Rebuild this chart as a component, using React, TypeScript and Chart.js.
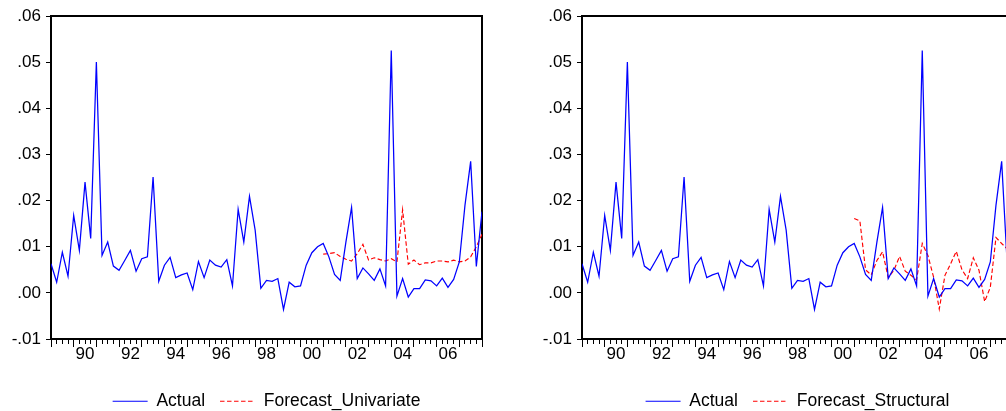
import React, { useEffect, useRef } from "react";
import { Chart, registerables } from "chart.js";

Chart.register(...registerables);
Chart.defaults.font.family = "'Liberation Sans', Arial, sans-serif";
Chart.defaults.color = "#000";

// Quarterly observations 1989Q1 .. 2008Q1
const startYear = 1989;
const endYear = 2008;

const actual = [
  0.0063, 0.0023, 0.0088, 0.0036, 0.0168, 0.0092, 0.024, 0.0118,
  0.05, 0.0081, 0.011, 0.0058, 0.0049, 0.007, 0.0092, 0.0047,
  0.0074, 0.0078, 0.0251, 0.0025, 0.006, 0.0077, 0.0033, 0.0039,
  0.0043, 0.0007, 0.0068, 0.0033, 0.0071, 0.006, 0.0056, 0.0072,
  0.0015, 0.0181, 0.011, 0.0209, 0.0136, 0.001, 0.0027, 0.0025,
  0.0031, -0.0036, 0.0023, 0.0013, 0.0015, 0.006, 0.0087, 0.01,
  0.0107, 0.0078, 0.004, 0.0027, 0.011, 0.0185, 0.0031, 0.0054,
  0.0041, 0.0027, 0.0052, 0.0015, 0.0525, -0.0007, 0.0031, -0.0009,
  0.0009, 0.0009, 0.0028, 0.0026, 0.0015, 0.0032, 0.0012, 0.0029,
  0.0067, 0.019, 0.0285, 0.0057, 0.0176,
];

// Forecasts start at 2001Q1 (observation index 48)
const forecastStartIndex = 48;

const forecastUnivariate = [
  0.0084, 0.0085, 0.0087, 0.0079, 0.0073, 0.0069, 0.0085, 0.0105,
  0.0071, 0.0076, 0.0072, 0.0069, 0.0074, 0.0067, 0.018, 0.0062,
  0.0071, 0.0061, 0.0065, 0.0065, 0.0069, 0.0069, 0.0067, 0.0071,
  0.0067, 0.0069, 0.0078, 0.01, 0.0127,
];

const forecastStructural = [
  0.0161, 0.0156, 0.005, 0.0039, 0.007, 0.0089, 0.0033, 0.0049,
  0.0079, 0.0047, 0.0038, 0.0028, 0.0107, 0.0081, 0.0034, -0.0035,
  0.0038, 0.0063, 0.009, 0.005, 0.0031, 0.0076, 0.0049, -0.0019,
  0.0012, 0.012, 0.0107, 0.0095, 0.009,
];

const xLabelYears = [1990, 1992, 1994, 1996, 1998, 2000, 2002, 2004, 2006];
const xTickLabels = ["90", "92", "94", "96", "98", "00", "02", "04", "06"];

const yTickValues = [-0.01, 0, 0.01, 0.02, 0.03, 0.04, 0.05, 0.06];
const yTickLabels = ["-.01", ".00", ".01", ".02", ".03", ".04", ".05", ".06"];

const quarterPos = (i: number) => startYear + i / 4;

const quarterTicks: number[] = [];
for (let i = 0; i <= (endYear - startYear) * 4; i++) quarterTicks.push(quarterPos(i));

const xLabel = (v: number) => {
  for (let k = 0; k < xLabelYears.length; k++) {
    if (Math.abs(v - (xLabelYears[k] + 0.5)) < 1e-6) return xTickLabels[k];
  }
  return "";
};

const yLabel = (v: number) => {
  for (let k = 0; k < yTickValues.length; k++) {
    if (Math.abs(v - yTickValues[k]) < 1e-9) return yTickLabels[k];
  }
  return "";
};

const majorTicksPlugin = {
  id: "majorTicks",
  afterDraw(chart: any) {
    const s = chart.scales.x;
    const ctx = chart.ctx;
    const b = chart.chartArea.bottom;
    ctx.save();
    ctx.strokeStyle = "#000";
    ctx.lineWidth = 1;
    for (let yr = startYear; yr <= endYear; yr++) {
      const px = Math.round(s.getPixelForValue(yr) - 0.5) + 0.5;
      ctx.beginPath();
      ctx.moveTo(px, b);
      ctx.lineTo(px, b + 8);
      ctx.stroke();
    }
    ctx.restore();
  },
};

function makeConfig(forecastLabel: string, forecast: number[]): any {
  const actualPts = actual.map((v, i) => ({ x: quarterPos(i), y: v }));
  const fcPts = forecast.map((v, j) => ({ x: quarterPos(forecastStartIndex + j), y: v }));
  return {
    type: "line",
    data: {
      datasets: [
        {
          label: "Actual",
          data: actualPts,
          borderColor: "#0000FF",
          backgroundColor: "#0000FF",
          borderWidth: 1.25,
          pointRadius: 0,
          tension: 0,
          fill: false,
        },
        {
          label: forecastLabel,
          data: fcPts,
          borderColor: "#FF0000",
          backgroundColor: "#FF0000",
          borderWidth: 1.15,
          borderDash: [4.5, 2.5],
          pointRadius: 0,
          tension: 0,
          fill: false,
        },
      ],
    },
    options: {
      responsive: false,
      animation: false,
      devicePixelRatio: 1,
      layout: { padding: 0 },
      plugins: {
        tooltip: { enabled: false },
        legend: {
          display: true,
          position: "bottom",
          align: "center",
          labels: {
            usePointStyle: true,
            pointStyle: "line",
            pointStyleWidth: 35,
            padding: 15,
            color: "#000",
            font: { size: 17.5 },
            generateLabels: (chart: any) => {
              const items = (Chart.defaults.plugins.legend.labels as any).generateLabels(chart);
              items.forEach((it: any) => {
                const ds = chart.data.datasets[it.datasetIndex];
                it.lineDash = ds.borderDash || [];
                it.lineWidth = 1.1;
                it.strokeStyle = ds.borderColor;
                it.fillStyle = ds.borderColor;
                it.pointStyle = "line";
              });
              return items;
            },
          },
        },
      },
      scales: {
        x: {
          type: "linear",
          position: "bottom",
          min: startYear,
          max: endYear,
          afterBuildTicks: (s: any) => {
            s.ticks = quarterTicks.map((v) => ({ value: v }));
          },
          afterFit: (s: any) => {
            s.height = 38.5;
          },
          grid: {
            display: true,
            drawOnChartArea: false,
            drawTicks: true,
            tickLength: 5,
            tickColor: "#000",
            tickWidth: 1,
            color: "#000",
          },
          border: { display: true, color: "#000", width: 2 },
          ticks: {
            autoSkip: false,
            maxRotation: 0,
            minRotation: 0,
            padding: 0,
            color: "#000",
            font: { size: 17 },
            callback: (v: any) => xLabel(Number(v)),
          },
        },
        xTop: {
          type: "linear",
          position: "top",
          min: 0,
          max: 1,
          afterFit: (s: any) => {
            s.height = 16;
          },
          grid: { display: false },
          ticks: { display: false },
          border: { display: true, color: "#000", width: 2 },
        },
        y: {
          type: "linear",
          position: "left",
          min: -0.01,
          max: 0.06,
          afterBuildTicks: (s: any) => {
            s.ticks = yTickValues.map((v) => ({ value: v }));
          },
          afterFit: (s: any) => {
            s.width = 51;
          },
          grid: {
            display: true,
            drawOnChartArea: false,
            drawTicks: true,
            tickLength: 5,
            tickColor: "#000",
            tickWidth: 1,
          },
          border: { display: true, color: "#000", width: 2 },
          ticks: {
            padding: 5,
            color: "#000",
            font: { size: 17 },
            callback: (v: any) => yLabel(Number(v)),
          },
        },
        yRight: {
          type: "linear",
          position: "right",
          min: 0,
          max: 1,
          afterFit: (s: any) => {
            s.width = 51;
          },
          grid: { display: false },
          ticks: { display: false },
          border: { display: true, color: "#000", width: 2 },
        },
      },
    },
    plugins: [majorTicksPlugin],
  };
}

function Panel({ left, forecastLabel, forecast }: { left: number; forecastLabel: string; forecast: number[] }) {
  const ref = useRef<HTMLCanvasElement>(null);
  useEffect(() => {
    const chart = new Chart(ref.current as HTMLCanvasElement, makeConfig(forecastLabel, forecast));
    return () => chart.destroy();
  }, []);
  return (
    <canvas
      ref={ref}
      width={533}
      height={420}
      style={{ position: "absolute", left, top: 0, width: 533, height: 420 }}
    />
  );
}

export default function App() {
  return (
    <div
      style={{
        position: "fixed",
        left: 0,
        top: 0,
        width: 1006,
        height: 411,
        overflow: "hidden",
        background: "#fff",
      }}
    >
      <Panel left={0} forecastLabel="Forecast_Univariate" forecast={forecastUnivariate} />
      <Panel left={531} forecastLabel="Forecast_Structural" forecast={forecastStructural} />
    </div>
  );
}
